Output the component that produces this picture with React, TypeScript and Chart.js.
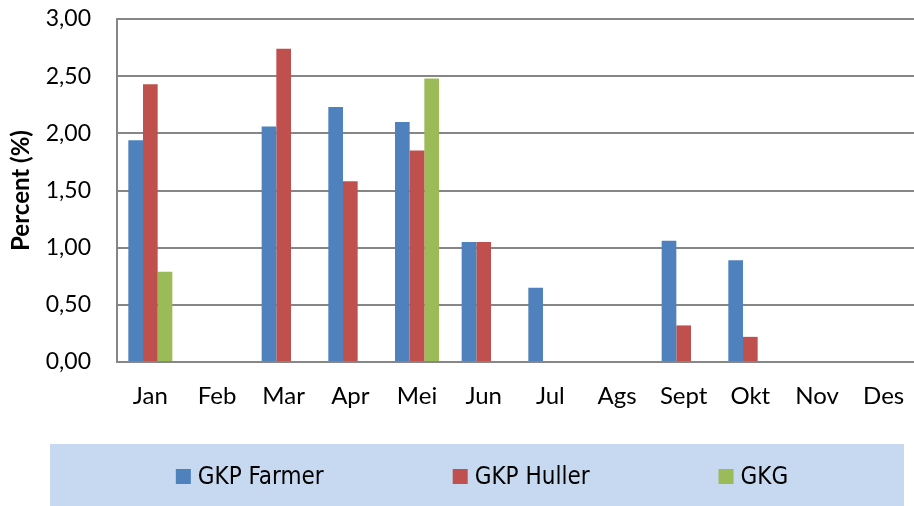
import React, { useEffect, useRef } from 'react';
import { Chart, registerables } from 'chart.js';

Chart.register(...registerables);

const categories = ['Jan', 'Feb', 'Mar', 'Apr', 'Mei', 'Jun', 'Jul', 'Ags', 'Sept', 'Okt', 'Nov', 'Des'];
const gkpFarmer = [1.94, null, 2.06, 2.23, 2.10, 1.05, 0.65, null, 1.06, 0.89, null, null];
const gkpHuller = [2.43, null, 2.74, 1.58, 1.85, 1.05, null, null, 0.32, 0.22, null, null];
const gkg = [0.79, null, null, null, 2.48, null, null, null, null, null, null, null];
const seriesNames = ['GKP Farmer', 'GKP Huller', 'GKG'];
const seriesColors = ['#4F81BD', '#C0504D', '#9BBB59'];
const yTickLabels = ['0,00', '0,50', '1,00', '1,50', '2,00', '2,50', '3,00'];
const yAxisTitle = 'Percent (%)';

const boxLegend = {
  id: 'boxLegend',
  beforeDraw(chart: any) {
    const ctx = chart.ctx;
    ctx.save();
    ctx.fillStyle = '#C6D9F1';
    ctx.fillRect(50, 444, 854, 62);
    ctx.restore();
  },
  afterDraw(chart: any) {
    const ctx = chart.ctx;
    ctx.save();
    ctx.font = "24px 'Liberation Sans Narrow', 'DejaVu Sans Condensed', sans-serif";
    const items = chart.data.datasets.map((ds: any) => ({
      label: ds.label,
      color: ds.backgroundColor,
      w: ctx.measureText(ds.label).width,
    }));
    const marker = 15;
    const gap = 7;
    const spacing = 129;
    const total =
      items.reduce((s: number, it: any) => s + marker + gap + it.w, 0) + spacing * (items.length - 1);
    let x = 482 - total / 2;
    for (const it of items) {
      ctx.fillStyle = it.color;
      ctx.fillRect(x, 469, marker, marker);
      ctx.fillStyle = '#000';
      ctx.textBaseline = 'alphabetic';
      ctx.textAlign = 'left';
      ctx.fillText(it.label, x + marker + gap, 484);
      x += marker + gap + it.w + spacing;
    }
    ctx.restore();
  },
};

export default function App() {
  const ref = useRef<HTMLCanvasElement | null>(null);

  useEffect(() => {
    if (!ref.current) return;
    const seriesData = [gkpFarmer, gkpHuller, gkg];
    const chart = new Chart(ref.current, {
      type: 'bar',
      data: {
        labels: categories,
        datasets: seriesNames.map((name, i) => ({
          label: name,
          data: seriesData[i],
          backgroundColor: seriesColors[i],
          borderWidth: 0,
          categoryPercentage: 0.66,
          barPercentage: 1.0,
        })),
      },
      options: {
        responsive: false,
        animation: false,
        devicePixelRatio: 1,
        layout: { padding: { top: 19, right: 0, bottom: 0, left: 0 } },
        plugins: {
          legend: { display: false },
          tooltip: { enabled: false },
        },
        scales: {
          x: {
            type: 'category',
            grid: { display: false, drawTicks: false },
            border: { display: true, color: '#868686', width: 2 },
            ticks: {
              color: '#000',
              padding: 20,
              maxRotation: 0,
              autoSkip: false,
              font: { family: 'Lato', size: 24 },
            },
            afterFit: (s: any) => {
              s.height = 144;
              s.paddingLeft = 0;
              s.paddingRight = 0;
            },
          },
          y: {
            min: 0,
            max: 3,
            ticks: {
              stepSize: 0.5,
              color: '#000',
              padding: 26,
              font: { family: 'Lato', size: 23 },
              callback: (_v: any, i: number) => yTickLabels[i],
            },
            grid: { color: '#868686', lineWidth: 2, drawTicks: false },
            border: { display: true, color: '#868686', width: 2 },
            title: {
              display: true,
              text: yAxisTitle,
              color: '#000',
              font: { family: 'Lato', size: 24, weight: 'bold' },
              padding: { top: 7, bottom: 0 },
            },
            afterFit: (s: any) => {
              s.width = 117;
              s.paddingTop = 0;
              s.paddingBottom = 0;
            },
          },
        },
      },
      plugins: [boxLegend],
    });
    return () => chart.destroy();
  }, []);

  return (
    <div
      style={{
        position: 'fixed',
        left: 0,
        top: 0,
        width: 914,
        height: 506,
        overflow: 'hidden',
        background: '#fff',
      }}
    >
      <canvas ref={ref} width={917} height={506} style={{ display: 'block' }} />
    </div>
  );
}
